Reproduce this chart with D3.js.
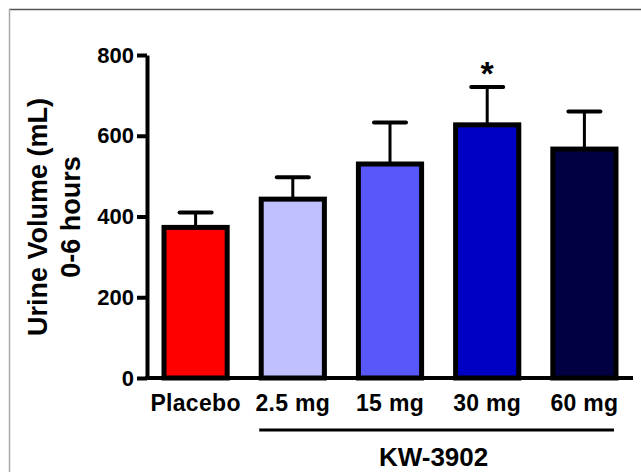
<!DOCTYPE html>
<html>
<head>
<meta charset="utf-8">
<script src="https://cdn.jsdelivr.net/npm/d3@7"></script>
<style>
  body { margin: 0; background: #fff; }
  text { font-family: "Liberation Sans", Arial, sans-serif; font-weight: bold; }
</style>
</head>
<body>
<div id="container"></div>
<script>
let groups = ["Placebo", "2.5 mg", "15 mg", "30 mg", "60 mg"];
let means = [373, 443, 530, 627, 567];
let errors = [37, 54, 103, 94, 93];
let colors = ["#ff0000", "#c0c0ff", "#5858fa", "#0000c4", "#000042"];
let yTicks = [0, 200, 400, 600, 800];
let significant = ["30 mg"];

let w = 641;
let h = 472;

let viz = d3.select("#container")
  .append("svg")
    .attr("width", w)
    .attr("height", h)
;

// frame (only top and left edges are visible)
viz.append("line")
  .attr("x1", 9).attr("x2", w).attr("y1", 9.5).attr("y2", 9.5)
  .attr("stroke", "#555").attr("stroke-width", 1.5);
viz.append("line")
  .attr("x1", 9.5).attr("x2", 9.5).attr("y1", 9).attr("y2", h)
  .attr("stroke", "#aaa").attr("stroke-width", 1.5);

let xScale = d3.scaleBand()
  .domain(groups)
  .range([147, 633])
  .paddingInner(0.35)
  .paddingOuter(0.175)
;
let yScale = d3.scaleLinear().domain([0, 800]).range([378, 55]);

let data = groups.map(function(g, i){
  return { group: g, mean: means[i], err: errors[i], color: colors[i] };
});

// bars
viz.append("g").selectAll("rect")
  .data(data)
  .enter()
  .append("rect")
    .attr("x", function(d){ return xScale(d.group); })
    .attr("y", function(d){ return yScale(d.mean); })
    .attr("width", xScale.bandwidth())
    .attr("height", function(d){ return yScale(0) - yScale(d.mean); })
    .attr("fill", function(d){ return d.color; })
    .attr("stroke", "#000")
    .attr("stroke-width", 5)
;

// error bars
let errGroup = viz.append("g");
errGroup.selectAll(".stem")
  .data(data)
  .enter()
  .append("line")
    .attr("x1", function(d){ return xScale(d.group) + xScale.bandwidth()/2; })
    .attr("x2", function(d){ return xScale(d.group) + xScale.bandwidth()/2; })
    .attr("y1", function(d){ return yScale(d.mean); })
    .attr("y2", function(d){ return yScale(d.mean + d.err); })
    .attr("stroke", "#000")
    .attr("stroke-width", 3)
;
errGroup.selectAll(".cap")
  .data(data)
  .enter()
  .append("line")
    .attr("x1", function(d){ return xScale(d.group) + xScale.bandwidth()/2 - 16; })
    .attr("x2", function(d){ return xScale(d.group) + xScale.bandwidth()/2 + 16; })
    .attr("y1", function(d){ return yScale(d.mean + d.err); })
    .attr("y2", function(d){ return yScale(d.mean + d.err); })
    .attr("stroke", "#000")
    .attr("stroke-width", 4)
    .attr("stroke-linecap", "round")
;

// significance star
viz.append("g").selectAll("text")
  .data(data.filter(function(d){ return significant.indexOf(d.group) >= 0; }))
  .enter()
  .append("text")
    .attr("x", function(d){ return xScale(d.group) + xScale.bandwidth()/2; })
    .attr("y", function(d){ return yScale(d.mean + d.err) - 2; })
    .attr("text-anchor", "middle")
    .attr("font-size", "34px")
    .text("*")
;

// y axis
let yAxis = d3.axisLeft(yScale).tickValues(yTicks).tickSize(10).tickSizeOuter(0).tickPadding(3);
let yAxisGroup = viz.append("g")
  .attr("transform", "translate(147,0)")
  .call(yAxis)
;
yAxisGroup.select(".domain").attr("stroke-width", 4).attr("stroke", "#000");
yAxisGroup.selectAll(".tick line").attr("stroke-width", 4).attr("stroke", "#000");
yAxisGroup.selectAll(".tick text")
  .attr("font-size", "22px")
  .attr("font-family", "Liberation Sans, Arial, sans-serif")
  .attr("font-weight", "bold")
  .attr("fill", "#000")
;

// x axis
let xAxis = d3.axisBottom(xScale).tickSize(0).tickPadding(17);
let xAxisGroup = viz.append("g")
  .attr("transform", "translate(0,378)")
  .call(xAxis)
;
xAxisGroup.select(".domain").attr("stroke-width", 4).attr("stroke", "#000").attr("d", "M145,0H633");
xAxisGroup.selectAll(".tick text")
  .attr("font-size", "23px")
  .attr("font-family", "Liberation Sans, Arial, sans-serif")
  .attr("font-weight", "bold")
  .attr("letter-spacing", "0.3px")
  .attr("fill", "#000")
;

// KW-3902 bracket
let drugStart = xScale(groups[1]) - 2;
let drugEnd = xScale(groups[groups.length - 1]) + xScale.bandwidth() - 2;
viz.append("line")
  .attr("x1", drugStart).attr("x2", drugEnd)
  .attr("y1", 430).attr("y2", 430)
  .attr("stroke", "#000").attr("stroke-width", 3);
viz.append("text")
  .attr("x", (drugStart + drugEnd) / 2 - 3)
  .attr("y", 466)
  .attr("text-anchor", "middle")
  .attr("font-size", "26px")
  .text("KW-3902");

// y title
let yTitle = viz.append("text")
  .attr("transform", "translate(0,217) rotate(-90)")
  .attr("text-anchor", "middle")
  .attr("font-size", "27px");
yTitle.append("tspan").attr("x", 0).attr("y", 47).text("Urine Volume (mL)");
yTitle.append("tspan").attr("x", 0).attr("y", 80).text("0-6 hours");
</script>
</body>
</html>
